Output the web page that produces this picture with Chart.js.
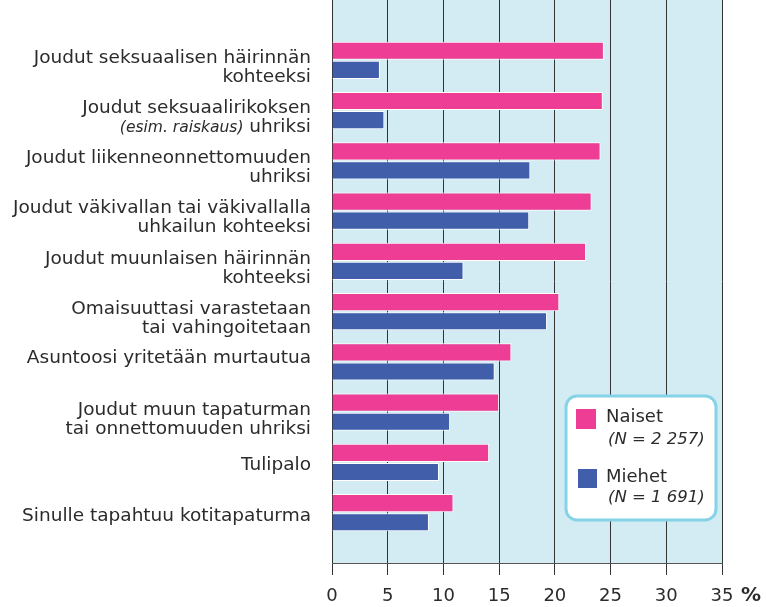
<!DOCTYPE html>
<html>
<head>
<meta charset="utf-8">
<script src="https://cdn.jsdelivr.net/npm/chart.js@4/dist/chart.umd.min.js"></script>
<style>
  body { margin: 0; background: #fff; }
  canvas { display: block; }
</style>
</head>
<body>
<canvas id="mycanvas" width="767" height="607"></canvas>
<script>
// luokat (rivitettyinä kuten kuvassa)
var categories = [
  ['Joudut seksuaalisen häirinnän', 'kohteeksi'],
  ['Joudut seksuaalirikoksen', '(esim. raiskaus) uhriksi'],
  ['Joudut liikenneonnettomuuden', 'uhriksi'],
  ['Joudut väkivallan tai väkivallalla', 'uhkailun kohteeksi'],
  ['Joudut muunlaisen häirinnän', 'kohteeksi'],
  ['Omaisuuttasi varastetaan', 'tai vahingoitetaan'],
  ['Asuntoosi yritetään murtautua'],
  ['Joudut muun tapaturman', 'tai onnettomuuden uhriksi'],
  ['Tulipalo'],
  ['Sinulle tapahtuu kotitapaturma']
];
var naiset = [24.4, 24.3, 24.1, 23.3, 22.8, 20.4, 16.1, 15.0, 14.1, 10.9];
var miehet = [4.3, 4.7, 17.8, 17.7, 11.8, 19.3, 14.6, 10.6, 9.6, 8.7];
var xTicks = [0, 5, 10, 15, 20, 25, 30, 35];
var legendNames = ['Naiset', 'Miehet'];
var legendN = ['(N = 2 257)', '(N = 1 691)'];

var pink = '#ee3d94';
var blue = '#415eaa';
var textCol = '#2b2b2b';
var FONT = '"DejaVu Sans", Verdana, sans-serif';

// pieni siirto tekstille kategorian keskeltä
var labelShift = [7, 7, 7, 7, 7, 7, -4, 7, 3, 3];

function toPoints(arr) {
  return arr.map(function(v, i) { return { x: v, y: i }; });
}

var bgPlugin = {
  id: 'bg',
  beforeDraw: function(chart) {
    var a = chart.chartArea, c = chart.ctx;
    c.save();
    c.fillStyle = '#d3ebf2';
    c.fillRect(a.left, a.top, a.right - a.left, a.bottom - a.top);
    c.restore();
  }
};

var textPlugin = {
  id: 'texts',
  afterDraw: function(chart) {
    var c = chart.ctx, ys = chart.scales.y, xs = chart.scales.x;
    c.save();
    c.fillStyle = textCol;
    c.textBaseline = 'middle';
    c.textAlign = 'right';
    var right = 311;
    categories.forEach(function(lines, i) {
      var cy = ys.getPixelForValue(i) + labelShift[i];
      var lh = 19;
      var y0 = cy - (lines.length - 1) * lh / 2;
      lines.forEach(function(line, k) {
        var y = y0 + k * lh;
        if (line.charAt(0) === '(') {
          var p = line.indexOf(')') + 1;
          var it = line.substring(0, p), rest = line.substring(p);
          c.font = '18.5px ' + FONT;
          c.textAlign = 'right';
          c.fillText(rest, right, y);
          var w = c.measureText(rest).width;
          c.font = 'italic 15.5px ' + FONT;
          c.fillText(it, right - w, y + 1);
        } else {
          c.font = '18.5px ' + FONT;
          c.textAlign = 'right';
          c.fillText(line, right, y);
        }
      });
    });

    // prosenttimerkki
    c.textAlign = 'left';
    c.font = 'bold 20px ' + FONT;
    c.fillText('%', xs.getPixelForValue(35) + 19, 596);

    // selite
    var bx = 566, by = 396, bw = 150, bh = 124;
    c.beginPath();
    c.roundRect(bx, by, bw, bh, 11);
    c.fillStyle = '#fff';
    c.fill();
    c.lineWidth = 3;
    c.strokeStyle = '#86d2e7';
    c.stroke();
    var cols = [pink, blue];
    for (var j = 0; j < 2; j++) {
      var oy = by + 13 + j * 60;
      c.fillStyle = cols[j];
      c.fillRect(bx + 10 + j * 2, oy, 20 - j, 20 - j);
      c.fillStyle = textCol;
      c.font = '18px ' + FONT;
      c.fillText(legendNames[j], bx + 40, oy + 8);
      c.font = 'italic 16.5px ' + FONT;
      c.fillText(legendN[j], bx + 42, oy + 31 - j * 2);
    }
    c.restore();
  }
};

var chartdata = {
  datasets: [
    {
      label: legendNames[0],
      backgroundColor: pink,
      borderColor: '#fff',
      borderWidth: 1,
      data: toPoints(naiset)
    },
    {
      label: legendNames[1],
      backgroundColor: blue,
      borderColor: '#fff',
      borderWidth: 1,
      data: toPoints(miehet)
    }
  ]
};

var ctx = document.getElementById('mycanvas');
var barGraph = new Chart(ctx, {
  type: 'bar',
  data: chartdata,
  plugins: [bgPlugin, textPlugin],
  options: {
    indexAxis: 'y',
    responsive: false,
    animation: false,
    devicePixelRatio: 1,
    categoryPercentage: 0.76,
    barPercentage: 0.95,
    layout: { padding: { left: 332, right: 45, top: 0, bottom: -10 } },
    plugins: { legend: { display: false }, tooltip: { enabled: false } },
    scales: {
      y: {
        type: 'linear',
        reverse: true,
        offset: false,
        min: -1.2,
        max: 10,
        display: false
      },
      x: {
        type: 'linear',
        min: 0,
        max: 35,
        afterBuildTicks: function(scale) {
          scale.ticks = xTicks.map(function(v) { return { value: v }; });
        },
        grid: { color: '#333', lineWidth: 1, tickLength: 12, tickColor: '#333' },
        border: { color: '#555', width: 1 },
        ticks: {
          color: textCol,
          font: { family: FONT, size: 18, lineHeight: 1 },
          padding: 12,
          maxRotation: 0
        }
      }
    }
  }
});
</script>
</body>
</html>
